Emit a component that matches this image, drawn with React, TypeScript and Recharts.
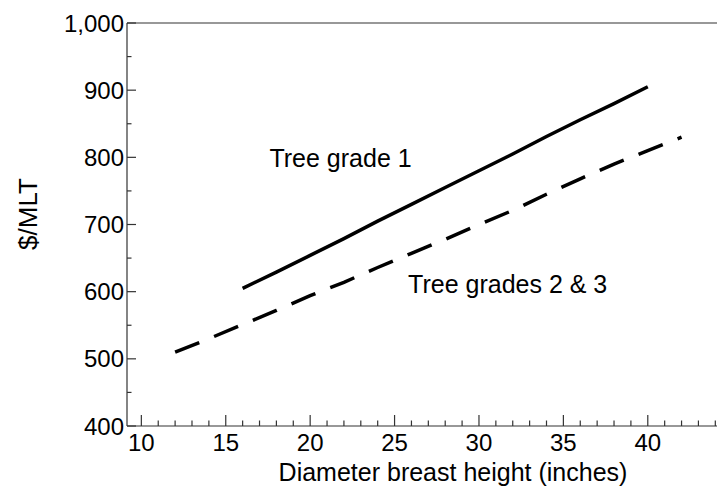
import React from "react";
import { LineChart, Line, XAxis, YAxis, ReferenceLine, ReferenceDot } from "recharts";

// values
const grade1Dbh = [16, 18, 20, 22, 24, 26, 28, 30, 32, 34, 36, 38, 40];
const grade1Price = [605, 629, 654, 679, 705, 730, 755, 780, 805, 831, 856, 880, 905];

const grade23Dbh = [12, 14, 16, 18, 20, 22, 24, 26, 28, 30, 32, 34, 36, 38, 40, 42];
const grade23Price = [510, 530, 551, 572, 594, 614, 636, 657, 678, 700, 721, 745, 768, 790, 810, 830];

const xTicks = [10, 11, 12, 13, 14, 15, 16, 17, 18, 19, 20, 21, 22, 23, 24, 25, 26, 27, 28, 29, 30,
  31, 32, 33, 34, 35, 36, 37, 38, 39, 40, 41, 42, 43, 44];
const yTicks = [400, 450, 500, 550, 600, 650, 700, 750, 800, 850, 900, 950, 1000];

const grade1Data = grade1Dbh.map((d, i) => ({ dbh: d, price: grade1Price[i] }));
const grade23Data = grade23Dbh.map((d, i) => ({ dbh: d, price: grade23Price[i] }));

const FONT = "'Liberation Sans', Arial, Helvetica, sans-serif";
const AXIS = "#333";

const XTick = (props: any) => {
  const { x, y, payload } = props;
  const major = payload.value % 5 === 0;
  return (
    <g>
      <line x1={x} x2={x} y1={y} y2={y - (major ? 11 : 5.5)} stroke={AXIS} strokeWidth={1.2} />
      {major && (
        <text x={x} y={y + 25} textAnchor="middle" fontSize={24} fontFamily={FONT} fill="#000">
          {payload.value}
        </text>
      )}
    </g>
  );
};

const YTick = (props: any) => {
  const { x, y, payload } = props;
  const major = payload.value % 100 === 0;
  return (
    <g>
      <line x1={x} x2={x + (major ? 9 : 4.5)} y1={y} y2={y} stroke={AXIS} strokeWidth={1.2} />
      {major && (
        <text x={x - 3} y={y + 8.5} textAnchor="end" fontSize={24} fontFamily={FONT} fill="#000">
          {payload.value.toLocaleString("en-US")}
        </text>
      )}
    </g>
  );
};

const note = (value: string) => (props: any) => {
  const { viewBox } = props;
  return (
    <text x={viewBox.x} y={viewBox.y} textAnchor="middle" fontSize={25} fontFamily={FONT} fill="#000">
      {value}
    </text>
  );
};

export default function App() {
  return (
    <div style={{ position: "absolute", left: 0, top: 0 }}>
      <LineChart width={717} height={489} margin={{ top: 23, right: 0, bottom: 0, left: 0 }}>
        <XAxis
          type="number"
          dataKey="dbh"
          domain={[9.15, 44.1]}
          allowDataOverflow
          ticks={xTicks}
          interval={0}
          height={63}
          tickSize={0}
          tickMargin={0}
          tickLine={false}
          tick={<XTick />}
          axisLine={{ stroke: AXIS, strokeWidth: 1.2 }}
          label={{
            content: () => (
              <text x={453} y={481} textAnchor="middle" fontSize={25} fontFamily={FONT} fill="#000">
                Diameter breast height (inches)
              </text>
            ),
          }}
        />
        <YAxis
          type="number"
          domain={[400, 1000]}
          ticks={yTicks}
          interval={0}
          width={127}
          tickSize={0}
          tickMargin={0}
          tickLine={false}
          tick={<YTick />}
          axisLine={{ stroke: AXIS, strokeWidth: 1.2 }}
          label={{
            content: () => (
              <text
                transform="translate(37,214) rotate(-90)"
                textAnchor="middle"
                fontSize={26}
                fontFamily={FONT}
                fill="#000"
              >
                $/MLT
              </text>
            ),
          }}
        />
        <ReferenceLine y={1000} stroke={AXIS} strokeWidth={1.2} />
        <Line
          data={grade1Data}
          dataKey="price"
          type="linear"
          stroke="#000"
          strokeWidth={3.5}
          dot={false}
          isAnimationActive={false}
        />
        <Line
          data={grade23Data}
          dataKey="price"
          type="linear"
          stroke="#000"
          strokeWidth={3.5}
          strokeDasharray="26 16"
          dot={false}
          isAnimationActive={false}
        />
        <ReferenceDot x={21.8} y={786} r={0} ifOverflow="visible" label={{ content: note("Tree grade 1") }} />
        <ReferenceDot x={31.7} y={598} r={0} ifOverflow="visible" label={{ content: note("Tree grades 2 & 3") }} />
      </LineChart>
    </div>
  );
}
